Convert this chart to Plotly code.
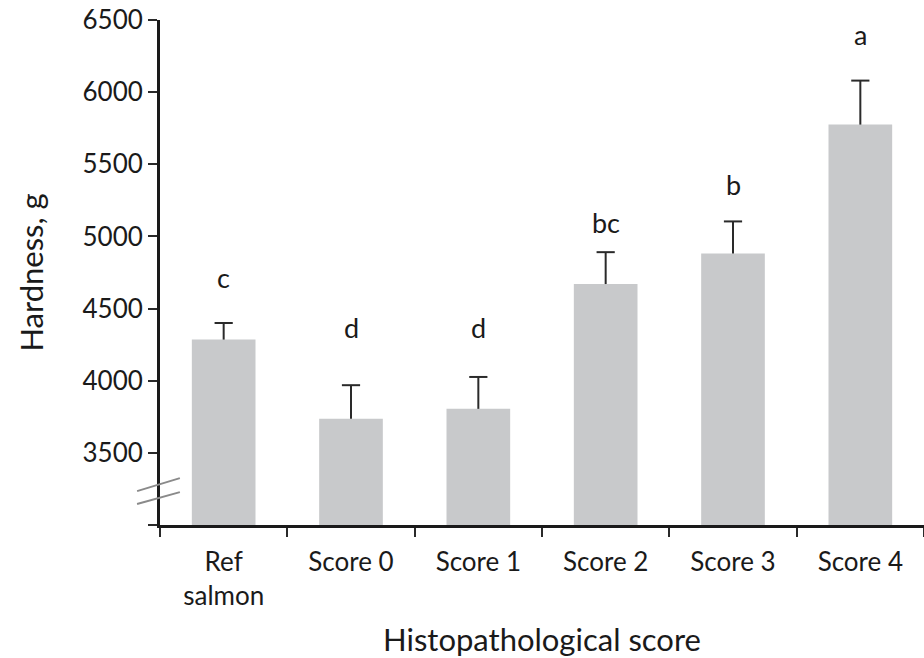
import plotly.graph_objects as go

# Texture analysis: hardness by histopathological score
categories = ["Ref<br>salmon", "Score 0", "Score 1", "Score 2", "Score 3", "Score 4"]
hardness = [4285, 3736, 3805, 4670, 4882, 5775]
hardness_se = [115, 233, 221, 221, 222, 305]
sig_letters = ["c", "d", "d", "bc", "b", "a"]
letter_y = [4716, 4367, 4367, 5100, 5363, 6401]

y_ticks = [3000, 3500, 4000, 4500, 5000, 5500, 6000, 6500]
y_ticktext = [""] + [str(v) for v in y_ticks[1:]]

FONT = "Lato"
TXT = "#1a1a1a"
ERR = "#2a2a2a"

fig = go.Figure()
fig.add_trace(go.Bar(
    x=categories,
    y=hardness,
    marker=dict(color="#c8c9cb", line=dict(width=0)),
    showlegend=False,
    hoverinfo="x+y",
))

# one-sided (upper) error bars: stems from mean to mean+SE
stem_x, stem_y = [], []
for cat, m, s in zip(categories, hardness, hardness_se):
    stem_x += [cat, cat, None]
    stem_y += [m, m + s, None]
fig.add_trace(go.Scatter(
    x=stem_x, y=stem_y, mode="lines",
    line=dict(color=ERR, width=2),
    connectgaps=False, showlegend=False, hoverinfo="skip",
))
# caps at the top of each error bar
fig.add_trace(go.Scatter(
    x=categories,
    y=[m + s for m, s in zip(hardness, hardness_se)],
    mode="markers",
    marker=dict(symbol="line-ew", size=13, line=dict(color=ERR, width=2)),
    showlegend=False, hoverinfo="skip",
))

for cat, lab, yy in zip(categories, sig_letters, letter_y):
    fig.add_annotation(
        x=cat, y=yy, text=lab, showarrow=False,
        font=dict(family=FONT, size=27, color=TXT),
        xref="x", yref="y",
    )

# axis-break marks on the y axis
for y0, y1 in [(3235, 3325), (3145, 3228)]:
    fig.add_shape(
        type="line", xref="paper", yref="y",
        x0=-0.030, x1=0.026, y0=y0, y1=y1,
        line=dict(color="#8a8a8a", width=2),
    )

fig.update_layout(
    width=924, height=658,
    margin=dict(l=160, r=0, t=20, b=133),
    paper_bgcolor="white",
    plot_bgcolor="white",
    bargap=0.5,
    font=dict(family=FONT, color=TXT),
    xaxis=dict(
        type="category",
        tickson="boundaries",
        ticks="outside",
        ticklen=9,
        tickwidth=2,
        tickcolor=ERR,
        ticklabelstandoff=12,
        showline=True,
        linecolor="#1a1a1a",
        linewidth=3,
        showgrid=False,
        tickfont=dict(family=FONT, size=26, color=TXT),
        title=dict(text="Histopathological score",
                   font=dict(family=FONT, size=31, color=TXT),
                   standoff=20),
    ),
    yaxis=dict(
        range=[3000, 6500],
        tickmode="array",
        tickvals=y_ticks,
        ticktext=y_ticktext,
        ticks="outside",
        ticklen=9,
        tickwidth=2,
        tickcolor=ERR,
        showline=True,
        linecolor="#1a1a1a",
        linewidth=3,
        showgrid=False,
        zeroline=False,
        tickfont=dict(family=FONT, size=26, color=TXT),
        title=dict(text="Hardness, g",
                   font=dict(family=FONT, size=31, color=TXT),
                   standoff=30),
    ),
)

fig.write_html("out.html")
